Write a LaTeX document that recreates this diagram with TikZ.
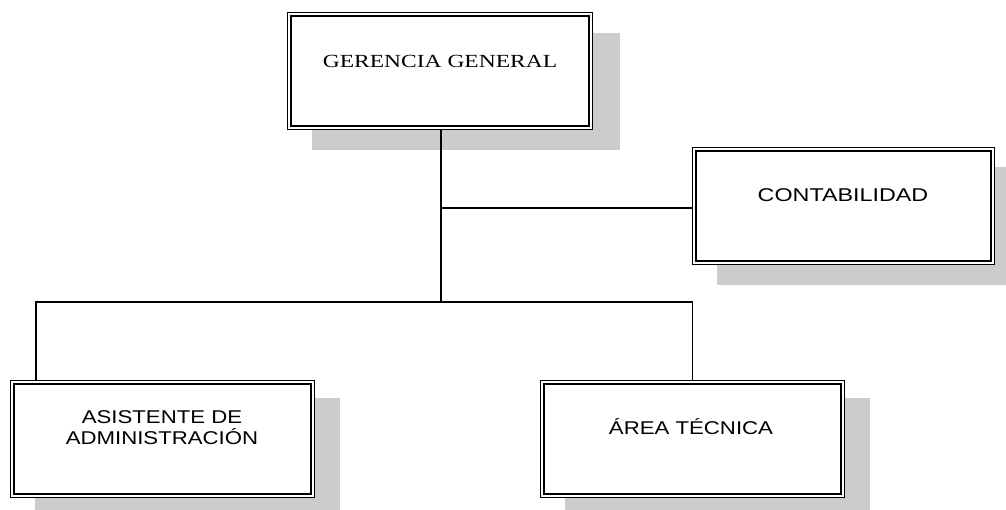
\documentclass[tikz,border=0pt]{standalone}
\usepackage{fontspec}
\setmainfont{Liberation Serif}
\newfontfamily\arialf{Liberation Sans}
\begin{document}
\begin{tikzpicture}[x=1pt,y=-1pt,
  orgbox/.style={draw=black, fill=white, double=white, double distance=1.8pt, line width=1.4pt,
    minimum width=#1-4.6pt, minimum height=113.4pt, inner sep=0pt, outer sep=2.3pt},
  serl/.style={font=\fontsize{18.5}{21}\selectfont, inner sep=0pt},
  sanl/.style={font=\arialf\fontsize{18.5}{20}\selectfont, inner sep=0pt, align=center}]
\useasboundingbox (0,0) rectangle (1006,510);
\begin{scope}
\clip (0,0) rectangle (1006,510);
% shadows
\fill[black!20] (312,33) rectangle (620,150);
\fill[black!20] (717,167) rectangle (1031,285);
\fill[black!20] (35,398) rectangle (340,518);
\fill[black!20] (565,398) rectangle (870,518);
\end{scope}
% boxes
\node[orgbox=306pt] (G) at (440,71) {};
\node[orgbox=303pt] (C) at (843.5,206) {};
\node[orgbox=305pt] (A) at (162.5,439) {};
\node[orgbox=305pt] (T) at (692.5,439) {};
% texts
\node[serl] (Gt) at (440,61) {\scalebox{1.27}[1]{GERENCIA GENERAL}};
\node[sanl] (Ct) at (843,195) {\scalebox{1.26}[1]{CONTABILIDAD}};
\node[sanl] (At) at (162,430) {\scalebox{1.2}[1]{\begin{tabular}{@{}c@{}}ASISTENTE DE\\[-2pt]ADMINISTRACIÓN\end{tabular}}};
\node[sanl] (Tt) at (691,427) {\scalebox{1.2}[1]{ÁREA TÉCNICA}};
% connectors
\coordinate (J) at (441,302);
\coordinate (K) at (441,208);
\coordinate (Aa) at (36,380);
\draw[line width=1.2pt] (441,129) -- (J);
\draw[line width=1.2pt] (K) -- (C.west |- K);
\draw[line width=1.2pt] (Aa) |- (J) -| (T.north);
\end{tikzpicture}
\end{document}
